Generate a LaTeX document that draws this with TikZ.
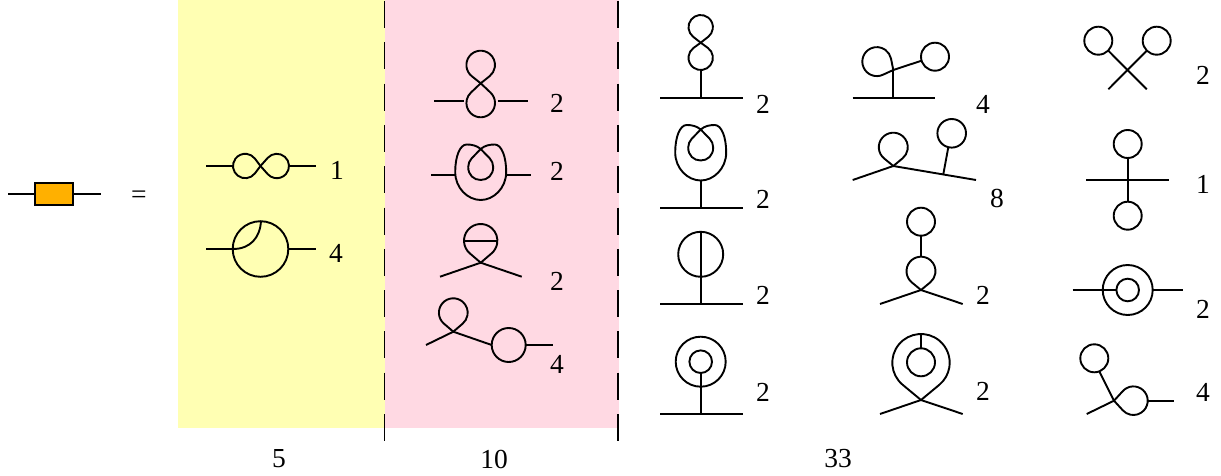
\documentclass[tikz,border=0pt]{standalone}
\usepackage{fontspec}
\setmainfont{Liberation Serif}
\usepackage[dvipsnames]{xcolor}
\definecolor{paleyellow}{HTML}{FFFFB3}
\definecolor{palepink}{HTML}{FFD9E3}
\definecolor{blobfill}{HTML}{FFB000}
\tikzset{wire/.style = {line width = 1.9pt}}
\tikzset{num/.style = {font = \fontsize{27.5}{30}\selectfont, inner sep = 0}}
\tikzset{sep/.style = {line width = 1.7pt, dash pattern = on 27pt off 14.3pt}}
% loop leaving a vertex: x, y, rotation, half width, length
\newcommand{\lobe}[5]{\begin{scope}[shift={(#1,#2)}, rotate=#3, x=1pt, y=1pt]
    \pgfmathsetmacro{\lobec}{#5-#4}
    \pgfmathsetmacro{\lobea}{asin(#4/\lobec)}
    \pgfmathsetmacro{\lobet}{sqrt(\lobec*\lobec-#4*#4)}
    \draw [wire, line join=round] (0,0) -- ({-\lobet*sin(\lobea)},{\lobet*cos(\lobea)})
        arc [start angle=180+\lobea, end angle=-\lobea, radius=#4] -- cycle;
    \end{scope}}
% heart shaped line with an inner loop, from its crossing point
\newcommand{\heart}[2]{\draw [wire, shift={(#1,#2)}] (0,0)
    .. controls (-4,-3.5) and (-9,-4.5) .. (-14,-4.5)
    .. controls (-21,-4.5) and (-25.5,8) .. (-25.5,23)
    .. controls (-25.5,39) and (-13,51) .. (0,51)
    .. controls (13,51) and (25.5,39) .. (25.5,23)
    .. controls (25.5,8) and (21,-4.5) .. (14,-4.5)
    .. controls (9,-4.5) and (4,-3.5) .. (0,0)
    -- (-9,9.3) .. controls (-11.2,11.6) and (-12.5,14.7) .. (-12.5,18)
    .. controls (-12.5,26) and (-7,31) .. (0,31)
    .. controls (7,31) and (12.5,26) .. (12.5,18)
    .. controls (12.5,14.7) and (11.2,11.6) .. (9,9.3) -- (0,0);}

\begin{document}
\begin{tikzpicture}[x=1pt, y=-1pt]
    \useasboundingbox (0,0) rectangle (1221,476);
    \fill [paleyellow] (178,0) rectangle (385,428);
    \fill [palepink] (385,0) rectangle (619,428);
    \draw [sep] (384.5,1) -- (384.5,441);
    \draw [sep] (618.3,1) -- (618.3,441);

    % the blob
    \coordinate (blobl) at (8,193.8);
    \coordinate (blobr) at (101,193.8);
    \node [draw, wire, fill=blobfill, minimum width=38pt, minimum height=21.5pt, inner sep=0] (blob) at (54.2,193.8) {};
    \draw [wire] (blobl) -- (blob) -- (blobr);
    \node [num] (equals) at (139,197) {=};

    % yellow column
    \draw [wire] (206,166) -- (233,166);
    \draw [wire] (289,166) -- (316,166);
    \lobe{260.5}{166}{90}{12.2}{27.5}
    \lobe{260.5}{166}{-90}{12.2}{28.5}
    \node [num] (yone) at (337,170) {1};
    \draw [wire] (260.5,249) circle [radius=27.8];
    \draw [wire] (206,249) -- (233,249);
    \draw [wire] (289,249) -- (316,249);
    \draw [wire] (233,249) .. controls (250,249) and (260,238) .. (261,221);
    \node [num] (ytwo) at (336,253) {4};
    \node [num] (yfive) at (279,459) {5};

    % pink column
    \lobe{480.7}{83.3}{0}{14.3}{32.6}
    \lobe{480.7}{83.3}{180}{14.3}{34}
    \draw [wire] (434,100.7) -- (464,100.7);
    \draw [wire] (497.5,100.7) -- (527.5,100.7);
    \node [num] (pone) at (557,103) {2};
    \heart{480.7}{149}
    \draw [wire] (431,175) -- (455.2,175);
    \draw [wire] (506.2,175) -- (530.5,175);
    \node [num] (ptwo) at (557,171) {2};
    \lobe{480.7}{262.7}{0}{16.7}{38.7}
    \draw [wire] (464,240.7) -- (497.4,240.7);
    \draw [wire] (440,276.7) -- (480.7,262.7) -- (521.7,276.7);
    \node [num] (pthree) at (557,281) {2};
    \lobe{453.3}{331.7}{0}{14.4}{33.4}
    \draw [wire] (426,345) -- (453.3,331.7) -- (491.7,345);
    \draw [wire] (508.7,345) circle [radius=17];
    \draw [wire] (525.7,345) -- (552.5,345);
    \node [num] (pfour) at (557,364) {4};
    \node [num] (pten) at (494,459) {10};

    % first column of the rest
    \lobe{700.7}{42.7}{0}{12.2}{27.7}
    \lobe{700.7}{42.7}{180}{12.2}{27.3}
    \draw [wire] (700.7,70) -- (700.7,97.7);
    \draw [wire] (660,97.7) -- (742.7,97.7);
    \node [num] (aone) at (763,104) {2};
    \heart{700.7}{129.5}
    \draw [wire] (700.7,180) -- (700.7,207.7);
    \draw [wire] (660,207.7) -- (742.7,207.7);
    \node [num] (atwo) at (763,199) {2};
    \draw [wire] (700.7,254.3) circle [radius=22.5];
    \draw [wire] (700.7,231.8) -- (700.7,304);
    \draw [wire] (660,304) -- (742.7,304);
    \node [num] (athree) at (763,295) {2};
    \draw [wire] (700.7,361.7) circle [radius=25];
    \draw [wire] (700.7,361.7) circle [radius=11.3];
    \draw [wire] (700.7,373) -- (700.7,414);
    \draw [wire] (660,414) -- (742.7,414);
    \node [num] (afour) at (763,392) {2};

    % second column of the rest
    \lobe{893.3}{70}{63}{14.5}{33}
    \draw [wire] (893.3,70) -- (921.5,60.7);
    \draw [wire] (935,56.7) circle [radius=14];
    \draw [wire] (893.3,70) -- (893.3,97.7);
    \draw [wire] (852.7,97.7) -- (935,97.7);
    \node [num] (bone) at (983,104) {4};
    \lobe{893.3}{166}{0}{14.5}{33.3}
    \draw [wire] (852.7,180) -- (893.3,166) -- (976,180);
    \draw [wire] (943.3,174.3) -- (948.3,147.3);
    \draw [wire] (951.7,133.3) circle [radius=14.3];
    \node [num] (btwo) at (997,198) {8};
    \draw [wire] (921,221.7) circle [radius=14];
    \draw [wire] (921,235.7) -- (921,256.7);
    \lobe{921}{290}{0}{14.5}{33.3}
    \draw [wire] (880,304) -- (921,290) -- (962.7,304);
    \node [num] (bthree) at (983,295) {2};
    \lobe{921}{400}{0}{28.7}{66}
    \draw [wire] (880,414) -- (921,400) -- (962.7,414);
    \draw [wire] (921,362.3) circle [radius=14];
    \draw [wire] (921,334) -- (921,348.3);
    \node [num] (bfour) at (983,391) {2};
    \node [num] (bthirty) at (838,459) {33};

    % third column of the rest
    \draw [wire] (1098.3,40.7) circle [radius=14];
    \draw [wire] (1156.7,40.7) circle [radius=14];
    \draw [wire] (1146.7,89.3) -- (1108.2,50.6);
    \draw [wire] (1108.3,89.3) -- (1146.8,50.6);
    \node [num] (cone) at (1203,75) {2};
    \draw [wire] (1127.7,144) circle [radius=14];
    \draw [wire] (1127.7,215.7) circle [radius=14];
    \draw [wire] (1127.7,158) -- (1127.7,201.7);
    \draw [wire] (1086,180) -- (1168.7,180);
    \node [num] (ctwo) at (1203,184) {1};
    \draw [wire] (1127.7,290) circle [radius=25];
    \draw [wire] (1127.7,290) circle [radius=11.3];
    \draw [wire] (1072.7,290) -- (1116.4,290);
    \draw [wire] (1152.7,290) -- (1182.7,290);
    \node [num] (cthree) at (1203,309) {2};
    \draw [wire] (1094.3,358.3) circle [radius=14];
    \draw [wire] (1099.3,371.5) -- (1114,400.7);
    \lobe{1114}{400.7}{-90}{14.3}{33.7}
    \draw [wire] (1086.7,414) -- (1114,400.7);
    \draw [wire] (1147.7,400.7) -- (1174.3,400.7);
    \node [num] (cfour) at (1203,392) {4};
\end{tikzpicture}
\end{document}
